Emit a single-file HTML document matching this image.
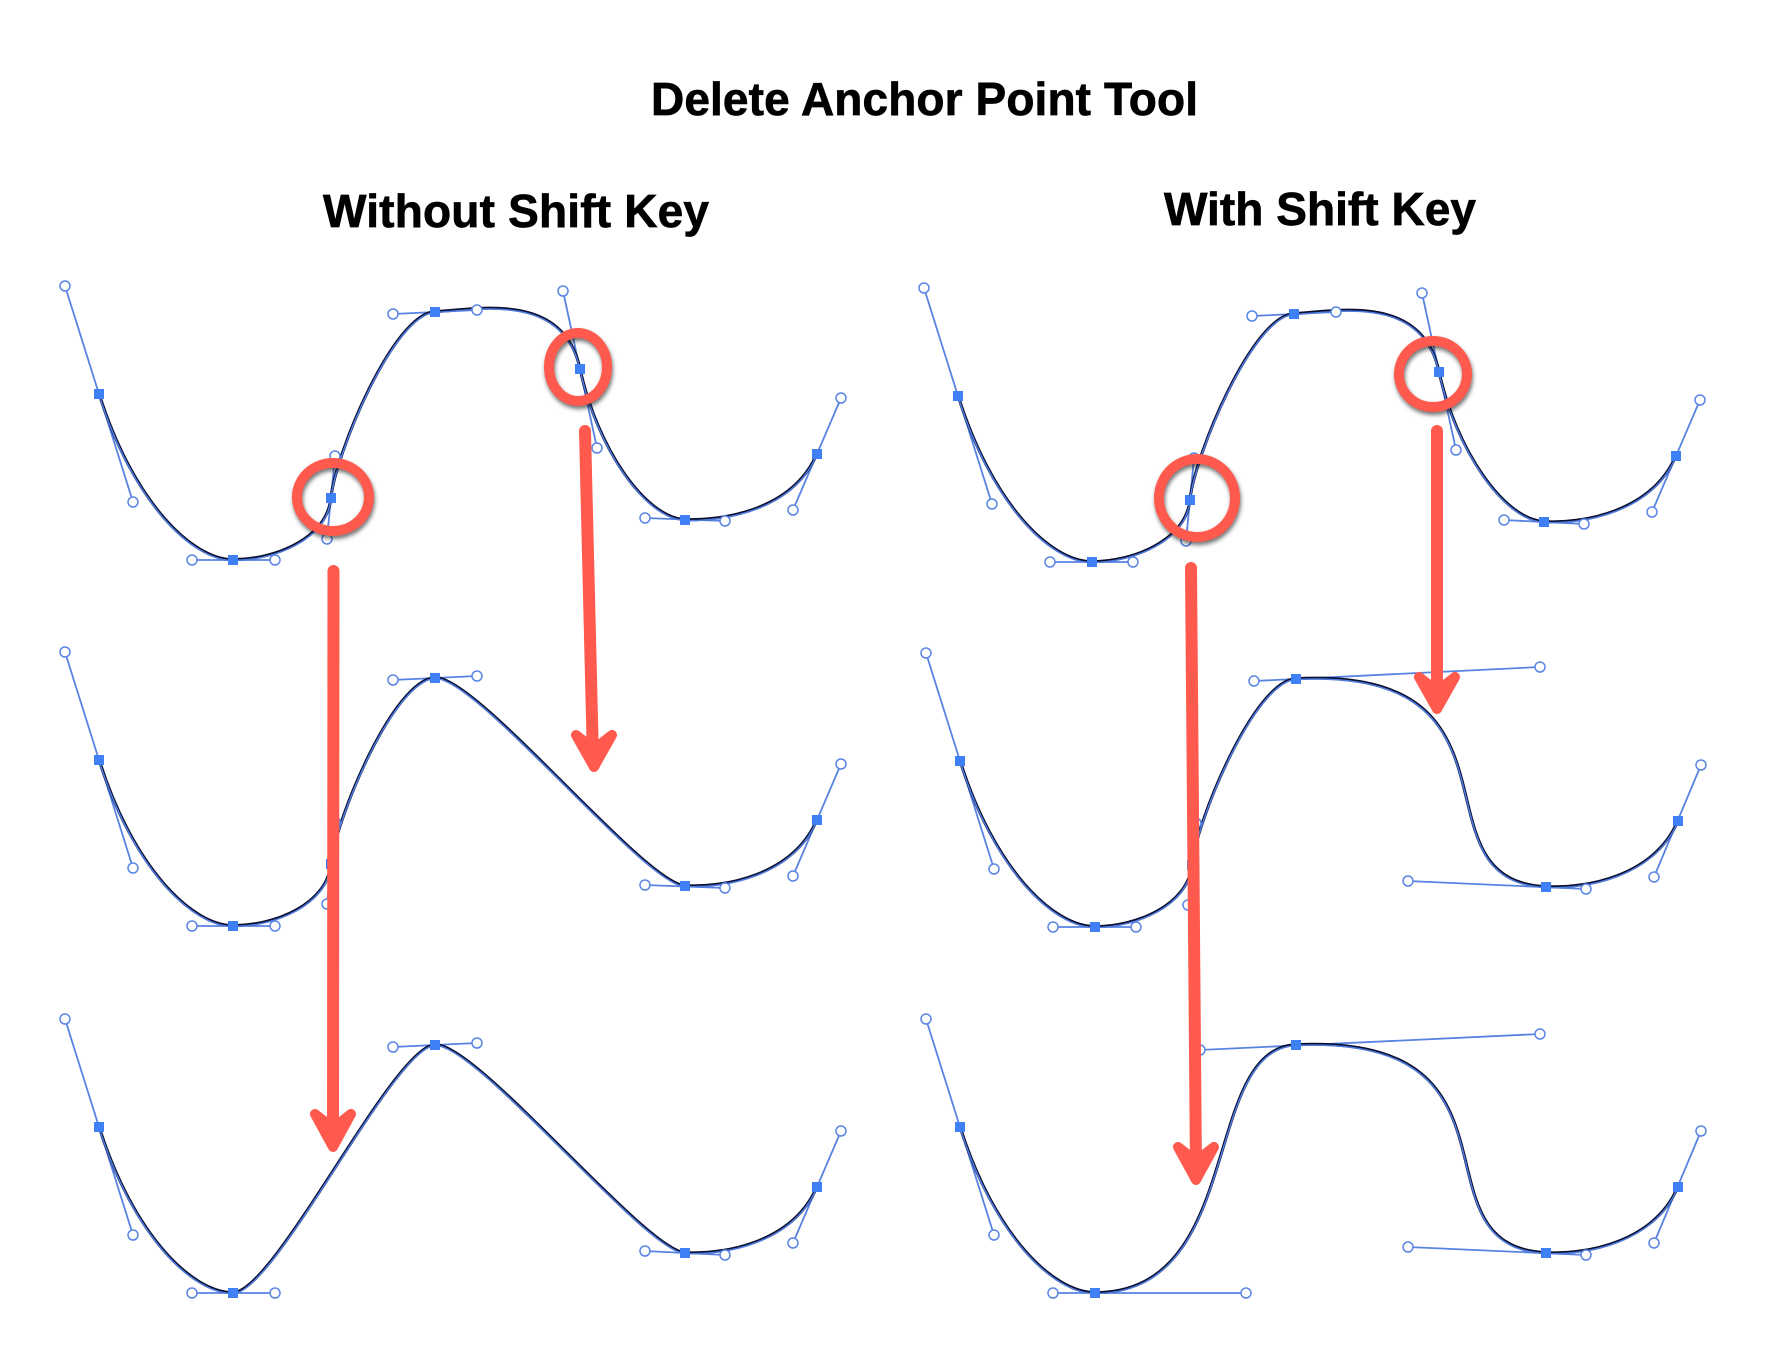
<!DOCTYPE html>
<html><head><meta charset="utf-8"><style>
html,body{margin:0;padding:0;background:#fff}
svg{display:block}
.t{font-family:"Liberation Sans",Arial,sans-serif;font-weight:700;font-size:46px;fill:#000;stroke:#000;stroke-width:.7}
.c1{fill:none;stroke:#0a0f30;stroke-width:3;transform:translateY(-.4px)}
.c2{fill:none;stroke:#4f7ce0;stroke-width:1.5;transform:translateY(.5px)}
.h{fill:none;stroke:#5883e2;stroke-width:1.8}
.k circle{fill:#fff;stroke:#5a85e4;stroke-width:1.5}
.a rect{fill:#3f80f6}
.r{fill:none;stroke:#ff5a4d;stroke-linecap:round;stroke-linejoin:round}
.f{fill:#ff5a4d}
.e{fill:none;stroke:#ff5a4d;stroke-width:10;filter:drop-shadow(1px 3px 2px rgba(0,0,0,.55))}
</style></head><body>
<svg xmlns="http://www.w3.org/2000/svg" width="1772" height="1350" viewBox="0 0 1772 1350">
<rect width="1772" height="1350" fill="#fff"/>
<text class="t" x="651" y="115" textLength="547">Delete Anchor Point Tool</text>
<text class="t" x="323" y="227" textLength="386">Without Shift Key</text>
<text class="t" x="1164" y="225" textLength="312">With Shift Key</text>

<!-- TOP LEFT -->
<path class="h" d="M65 286L133 502M192 560L275 560M335 456L327 539M393 314L477 310M563 291L597 448M645 518L725 521M793 510L841 398"/>
<path class="c1" d="M99 394C133 502 192 560 233 560C275 560 327 539 331 498C335 456 393 314 435 312C477 310 563 291 580 369C597 448 645 518 685 520C725 521 793 510 817 454"/>
<path class="c2" d="M99 394C133 502 192 560 233 560C275 560 327 539 331 498C335 456 393 314 435 312C477 310 563 291 580 369C597 448 645 518 685 520C725 521 793 510 817 454"/>
<g class="k"><circle cx="65" cy="286" r="5"/><circle cx="133" cy="502" r="5"/><circle cx="192" cy="560" r="5"/><circle cx="275" cy="560" r="5"/><circle cx="335" cy="456" r="5"/><circle cx="327" cy="539" r="5"/><circle cx="393" cy="314" r="5"/><circle cx="477" cy="310" r="5"/><circle cx="563" cy="291" r="5"/><circle cx="597" cy="448" r="5"/><circle cx="645" cy="518" r="5"/><circle cx="725" cy="521" r="5"/><circle cx="793" cy="510" r="5"/><circle cx="841" cy="398" r="5"/></g>
<g class="a"><rect x="94" y="389" width="10" height="10"/><rect x="228" y="555" width="10" height="10"/><rect x="326" y="493" width="10" height="10"/><rect x="430" y="307" width="10" height="10"/><rect x="575" y="364" width="10" height="10"/><rect x="680" y="515" width="10" height="10"/><rect x="812" y="449" width="10" height="10"/></g>

<!-- MIDDLE LEFT -->
<path class="h" d="M65 652L133 868M192 926L275 926M335 822L327 904M393 680L477 676M645 885L725 888M793 876L841 764"/>
<path class="c1" d="M99 760C133 868 192 926 233 926C275 926 327 905 331 864C335 822 393 680 435 678C477 676 645 885 685 886C725 888 793 876 817 820"/>
<path class="c2" d="M99 760C133 868 192 926 233 926C275 926 327 905 331 864C335 822 393 680 435 678C477 676 645 885 685 886C725 888 793 876 817 820"/>
<g class="k"><circle cx="65" cy="652" r="5"/><circle cx="133" cy="868" r="5"/><circle cx="192" cy="926" r="5"/><circle cx="275" cy="926" r="5"/><circle cx="335" cy="822" r="5"/><circle cx="327" cy="904" r="5"/><circle cx="393" cy="680" r="5"/><circle cx="477" cy="676" r="5"/><circle cx="645" cy="885" r="5"/><circle cx="725" cy="888" r="5"/><circle cx="793" cy="876" r="5"/><circle cx="841" cy="764" r="5"/></g>
<g class="a"><rect x="94" y="755" width="10" height="10"/><rect x="228" y="921" width="10" height="10"/><rect x="326" y="859" width="10" height="10"/><rect x="430" y="673" width="10" height="10"/><rect x="680" y="881" width="10" height="10"/><rect x="812" y="815" width="10" height="10"/></g>

<!-- BOTTOM LEFT -->
<path class="h" d="M65 1019L133 1235M192 1293L275 1293M393 1047L477 1043M645 1251L725 1255M793 1243L841 1131"/>
<path class="c1" d="M99 1127C133 1235 192 1293 233 1293C275 1293 393 1047 435 1045C477 1043 645 1251 685 1253C725 1255 793 1243 817 1187"/>
<path class="c2" d="M99 1127C133 1235 192 1293 233 1293C275 1293 393 1047 435 1045C477 1043 645 1251 685 1253C725 1255 793 1243 817 1187"/>
<g class="k"><circle cx="65" cy="1019" r="5"/><circle cx="133" cy="1235" r="5"/><circle cx="192" cy="1293" r="5"/><circle cx="275" cy="1293" r="5"/><circle cx="393" cy="1047" r="5"/><circle cx="477" cy="1043" r="5"/><circle cx="645" cy="1251" r="5"/><circle cx="725" cy="1255" r="5"/><circle cx="793" cy="1243" r="5"/><circle cx="841" cy="1131" r="5"/></g>
<g class="a"><rect x="94" y="1122" width="10" height="10"/><rect x="228" y="1288" width="10" height="10"/><rect x="430" y="1040" width="10" height="10"/><rect x="680" y="1248" width="10" height="10"/><rect x="812" y="1182" width="10" height="10"/></g>

<!-- TOP RIGHT -->
<path class="h" d="M924 288L992 504M1050 562L1133 562M1194 458L1186 541M1252 316L1336 312M1422 293L1456 450M1504 520L1584 524M1652 512L1700 400"/>
<path class="c1" d="M958 396C992 504 1050 562 1092 562C1133 562 1186 541 1190 500C1194 458 1252 316 1294 314C1336 312 1422 293 1439 372C1456 450 1504 520 1544 522C1584 524 1652 512 1676 456"/>
<path class="c2" d="M958 396C992 504 1050 562 1092 562C1133 562 1186 541 1190 500C1194 458 1252 316 1294 314C1336 312 1422 293 1439 372C1456 450 1504 520 1544 522C1584 524 1652 512 1676 456"/>
<g class="k"><circle cx="924" cy="288" r="5"/><circle cx="992" cy="504" r="5"/><circle cx="1050" cy="562" r="5"/><circle cx="1133" cy="562" r="5"/><circle cx="1194" cy="458" r="5"/><circle cx="1186" cy="541" r="5"/><circle cx="1252" cy="316" r="5"/><circle cx="1336" cy="312" r="5"/><circle cx="1422" cy="293" r="5"/><circle cx="1456" cy="450" r="5"/><circle cx="1504" cy="520" r="5"/><circle cx="1584" cy="524" r="5"/><circle cx="1652" cy="512" r="5"/><circle cx="1700" cy="400" r="5"/></g>
<g class="a"><rect x="953" y="391" width="10" height="10"/><rect x="1087" y="557" width="10" height="10"/><rect x="1185" y="495" width="10" height="10"/><rect x="1289" y="309" width="10" height="10"/><rect x="1434" y="367" width="10" height="10"/><rect x="1539" y="517" width="10" height="10"/><rect x="1671" y="451" width="10" height="10"/></g>

<!-- MIDDLE RIGHT -->
<path class="h" d="M926 653L994 869M1053 927L1136 927M1196 823L1188 905M1254 681L1540 667M1408 881L1586 889M1654 877L1701 765"/>
<path class="c1" d="M960 761C994 869 1053 927 1095 927C1136 927 1188 906 1192 865C1196 823 1254 681 1296 679C1540 667 1408 881 1546 887C1586 889 1654 877 1678 821"/>
<path class="c2" d="M960 761C994 869 1053 927 1095 927C1136 927 1188 906 1192 865C1196 823 1254 681 1296 679C1540 667 1408 881 1546 887C1586 889 1654 877 1678 821"/>
<g class="k"><circle cx="926" cy="653" r="5"/><circle cx="994" cy="869" r="5"/><circle cx="1053" cy="927" r="5"/><circle cx="1136" cy="927" r="5"/><circle cx="1196" cy="823" r="5"/><circle cx="1188" cy="905" r="5"/><circle cx="1254" cy="681" r="5"/><circle cx="1540" cy="667" r="5"/><circle cx="1408" cy="881" r="5"/><circle cx="1586" cy="889" r="5"/><circle cx="1654" cy="877" r="5"/><circle cx="1701" cy="765" r="5"/></g>
<g class="a"><rect x="955" y="756" width="10" height="10"/><rect x="1090" y="922" width="10" height="10"/><rect x="1187" y="860" width="10" height="10"/><rect x="1291" y="674" width="10" height="10"/><rect x="1541" y="882" width="10" height="10"/><rect x="1673" y="816" width="10" height="10"/></g>

<!-- BOTTOM RIGHT -->
<path class="h" d="M926 1019L994 1235M1053 1293L1246 1293M1200 1050L1540 1034M1408 1247L1586 1255M1654 1243L1701 1131"/>
<path class="c1" d="M960 1127C994 1235 1053 1293 1095 1293C1246 1293 1200 1050 1296 1045C1540 1034 1408 1247 1546 1253C1586 1255 1654 1243 1678 1187"/>
<path class="c2" d="M960 1127C994 1235 1053 1293 1095 1293C1246 1293 1200 1050 1296 1045C1540 1034 1408 1247 1546 1253C1586 1255 1654 1243 1678 1187"/>
<g class="k"><circle cx="926" cy="1019" r="5"/><circle cx="994" cy="1235" r="5"/><circle cx="1053" cy="1293" r="5"/><circle cx="1246" cy="1293" r="5"/><circle cx="1200" cy="1050" r="5"/><circle cx="1540" cy="1034" r="5"/><circle cx="1408" cy="1247" r="5"/><circle cx="1586" cy="1255" r="5"/><circle cx="1654" cy="1243" r="5"/><circle cx="1701" cy="1131" r="5"/></g>
<g class="a"><rect x="955" y="1122" width="10" height="10"/><rect x="1090" y="1288" width="10" height="10"/><rect x="1291" y="1040" width="10" height="10"/><rect x="1541" y="1248" width="10" height="10"/><rect x="1673" y="1182" width="10" height="10"/></g>

<!-- Red circles -->
<ellipse class="e" cx="333" cy="497" rx="36" ry="34"/>
<ellipse class="e" cx="578" cy="367" rx="29" ry="34"/>
<ellipse class="e" cx="1197" cy="498" rx="38" ry="39"/>
<ellipse class="e" cx="1433" cy="374" rx="34" ry="33"/>

<!-- Red arrows -->
<path class="r" stroke-width="12" d="M333.500 571L333 1140"/>
<path class="r f" stroke-width="10" d="M315 1114L333 1147L351 1114L333 1128Z"/>
<path class="r" stroke-width="12" d="M585 431L593 760"/>
<path class="r f" stroke-width="10" d="M576 735L594 767L612 735L594 749Z"/>
<path class="r" stroke-width="12" d="M1191 568L1196 1173"/>
<path class="r f" stroke-width="10" d="M1178 1147L1196 1180L1214 1147L1196 1161Z"/>
<path class="r" stroke-width="12" d="M1437 431L1437 702"/>
<path class="r f" stroke-width="10" d="M1419 677L1437 709L1455 677L1437 691Z"/>
</svg>
</body></html>
